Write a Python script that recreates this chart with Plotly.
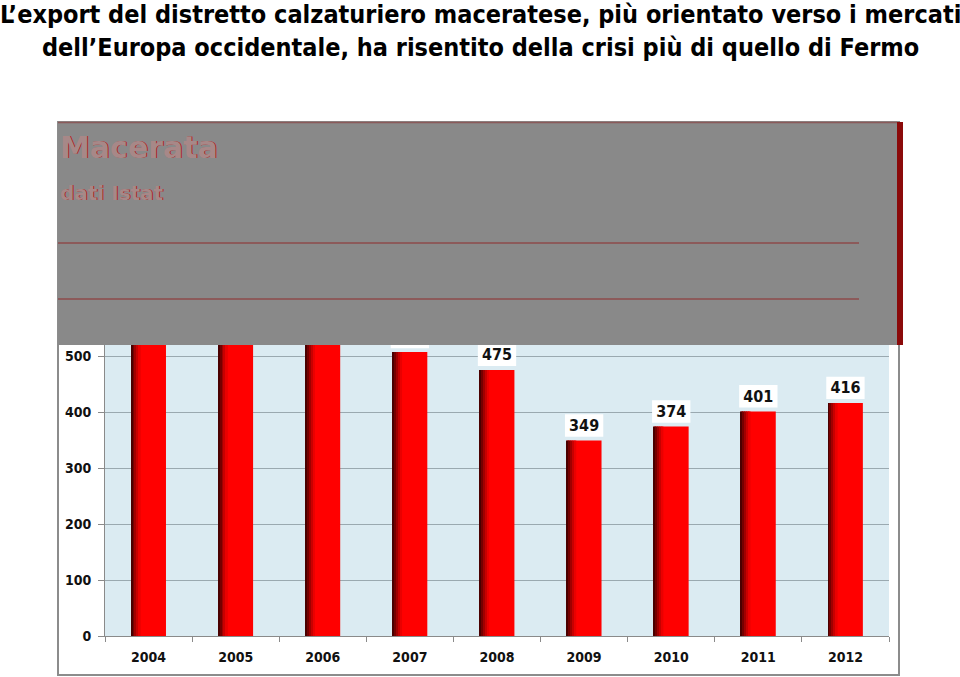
import plotly.graph_objects as go

years = ["2004", "2005", "2006", "2007", "2008", "2009", "2010", "2011", "2012"]
export_values = [640, 600, 615, 507, 475, 349, 374, 401, 416]
y_ticks = [0, 100, 200, 300, 400, 500]
title_lines = ["L\u2019export del distretto calzaturiero maceratese, più orientato verso i mercati",
               "dell\u2019Europa occidentale, ha risentito della crisi più di quello di Fermo"]
overlay_texts = ["Macerata", "dati Istat"]

W, H = 960, 677
L, R, T, B = 105, 71, 132, 41
PW, PH = W - L - R, H - T - B
YMAX = 900

def px(x):
    return (x - L) / PW

def py(y):
    return (H - B - y) / PH

FONT = "DejaVu Sans Condensed, Liberation Sans Narrow, sans-serif"
xs = list(range(len(years)))

fig = go.Figure()
fig.add_trace(go.Bar(x=xs, y=export_values, width=0.4, offset=-0.2,
                     marker=dict(color="#FF0000", line=dict(width=0)), hoverinfo="skip"))
stripe_cols = ["#4a0000", "#750000", "#a00000", "#c80000", "#ea0000"]
for i, c in enumerate(stripe_cols):
    fig.add_trace(go.Bar(x=xs, y=export_values, width=0.022, offset=-0.2 + i * 0.022,
                         marker=dict(color=c, line=dict(width=0)), hoverinfo="skip"))

# value labels: white boxes placed just above each bar (drawn as bars so the overlay hides them)
gap_units = 7
box_units = 40
fig.add_trace(go.Bar(x=xs, y=[box_units] * len(xs), base=[v + gap_units for v in export_values],
                     width=0.44, offset=-0.22, marker=dict(color="white", line=dict(width=0)),
                     text=[str(v) for v in export_values], textposition="inside",
                     insidetextanchor="middle", constraintext="none",
                     textfont=dict(family=FONT, size=16, color="#111", weight="bold"),
                     hoverinfo="skip", cliponaxis=False))

shapes = []
shapes.append(dict(type="rect", xref="paper", yref="paper", x0=px(58), x1=px(899), y0=py(675), y1=py(122),
                   line=dict(color="#8c8c8c", width=2), fillcolor="rgba(0,0,0,0)", layer="below"))
shapes.append(dict(type="rect", xref="paper", yref="paper", x0=px(58), x1=px(897), y0=py(345), y1=py(122),
                   line=dict(width=0), fillcolor="#898989", layer="above"))
shapes.append(dict(type="line", xref="paper", yref="paper", x0=px(58), x1=px(897), y0=py(122.5), y1=py(122.5),
                   line=dict(color="#8a5a5a", width=1.5), layer="above"))
shapes.append(dict(type="rect", xref="paper", yref="paper", x0=px(897), x1=px(903), y0=py(345), y1=py(122),
                   line=dict(width=0), fillcolor="#8b0a0a", layer="above"))
for yy in (243, 299):
    shapes.append(dict(type="line", xref="paper", yref="paper", x0=px(58), x1=px(859), y0=py(yy), y1=py(yy),
                       line=dict(color="#8e4b4b", width=1.5), layer="above"))
fig.update_layout(shapes=shapes)

fig.add_annotation(xref="paper", yref="paper", x=px(58), y=py(147), xanchor="left", yanchor="middle",
                   text=overlay_texts[0], showarrow=False,
                   font=dict(family="DejaVu Sans", size=30, color="#a78888", weight="bold",
                             shadow="1px 0px 0px #a82828"))
fig.add_annotation(xref="paper", yref="paper", x=px(58), y=py(193), xanchor="left", yanchor="middle",
                   text=overlay_texts[1], showarrow=False,
                   font=dict(family="DejaVu Sans", size=20, color="#a78888", weight="bold",
                             shadow="1px 0px 0px #a82828"))

for i, line in enumerate(title_lines):
    fig.add_annotation(xref="paper", yref="paper", x=px(480), y=py(15 + i * 33), xanchor="center",
                       yanchor="middle", text=line, showarrow=False,
                       font=dict(family=FONT, size=25, color="black", weight="bold"))

fig.update_layout(
    width=W, height=H,
    margin=dict(l=L, r=R, t=T, b=B, pad=0),
    paper_bgcolor="white",
    plot_bgcolor="#DBEBF2",
    barmode="overlay",
    showlegend=False,
    font=dict(family=FONT, size=14, color="black"),
    xaxis=dict(range=[-0.5, len(years) - 0.5], tickvals=xs, ticktext=years, ticks="",
               showline=True, linecolor="#8a8a8a", linewidth=1, showgrid=False, zeroline=False,
               ticklabelstandoff=8,
               minor=dict(tickmode="linear", tick0=0.5, dtick=1, ticks="outside", ticklen=5,
                          tickcolor="#8a8a8a", showgrid=False),
               tickfont=dict(family=FONT, size=14, color="#111", weight="bold")),
    yaxis=dict(range=[0, YMAX], tickvals=y_ticks, ticks="outside", ticklen=6, tickcolor="#8a8a8a",
               showline=True, linecolor="#8a8a8a", linewidth=1, showgrid=True, gridcolor="#9aa9b0",
               gridwidth=1, zeroline=False, ticklabelstandoff=4,
               tickfont=dict(family=FONT, size=14, color="#111", weight="bold")),
)

fig.write_html("out.html", config={"displayModeBar": False},
               post_script="document.body.style.margin='0';document.body.style.overflow='hidden';")
